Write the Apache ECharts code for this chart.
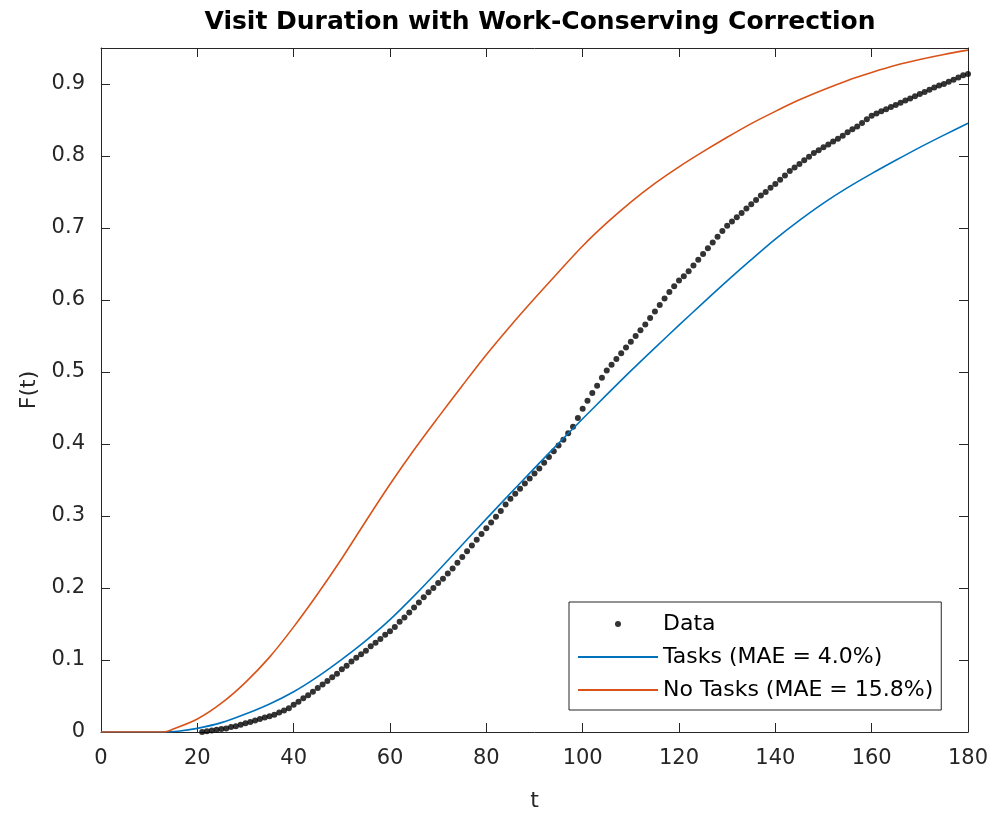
<!DOCTYPE html>
<html>
<head>
<meta charset="utf-8">
<title>Visit Duration with Work-Conserving Correction</title>
<script src="https://cdn.jsdelivr.net/npm/echarts@6/dist/echarts.min.js"></script>
<style>
  html, body { margin: 0; padding: 0; background: #fff; }
  #chart { width: 992px; height: 815px; }
</style>
</head>
<body>
<div id="chart"></div>
<script>
// Empirical visit-duration CDF, one point per time unit: [t, F(t)]
const observed = [
  [21,0.000],[22,0.001],[23,0.002],[24,0.003],[25,0.004],[26,0.005],[27,0.007],[28,0.008],[29,0.010],[30,0.012],
  [31,0.014],[32,0.016],[33,0.018],[34,0.020],[35,0.022],[36,0.024],[37,0.027],[38,0.030],[39,0.033],[40,0.038],
  [41,0.042],[42,0.047],[43,0.051],[44,0.056],[45,0.061],[46,0.066],[47,0.071],[48,0.076],[49,0.081],[50,0.087],
  [51,0.092],[52,0.098],[53,0.103],[54,0.108],[55,0.113],[56,0.119],[57,0.124],[58,0.129],[59,0.135],[60,0.140],
  [61,0.146],[62,0.153],[63,0.159],[64,0.166],[65,0.173],[66,0.180],[67,0.187],[68,0.194],[69,0.200],[70,0.207],
  [71,0.213],[72,0.220],[73,0.227],[74,0.235],[75,0.243],[76,0.251],[77,0.259],[78,0.267],[79,0.275],[80,0.283],
  [81,0.291],[82,0.299],[83,0.307],[84,0.316],[85,0.324],[86,0.331],[87,0.338],[88,0.345],[89,0.352],[90,0.359],
  [91,0.366],[92,0.374],[93,0.382],[94,0.390],[95,0.398],[96,0.406],[97,0.415],[98,0.424],[99,0.436],[100,0.449],
  [101,0.460],[102,0.471],[103,0.481],[104,0.492],[105,0.502],[106,0.510],[107,0.518],[108,0.526],[109,0.534],[110,0.542],
  [111,0.550],[112,0.558],[113,0.566],[114,0.575],[115,0.584],[116,0.593],[117,0.602],[118,0.611],[119,0.619],[120,0.627],
  [121,0.633],[122,0.640],[123,0.648],[124,0.656],[125,0.664],[126,0.672],[127,0.680],[128,0.688],[129,0.696],[130,0.703],
  [131,0.709],[132,0.715],[133,0.721],[134,0.727],[135,0.733],[136,0.739],[137,0.745],[138,0.750],[139,0.756],[140,0.761],
  [141,0.767],[142,0.773],[143,0.779],[144,0.784],[145,0.789],[146,0.794],[147,0.799],[148,0.804],[149,0.808],[150,0.812],
  [151,0.816],[152,0.820],[153,0.824],[154,0.828],[155,0.833],[156,0.837],[157,0.841],[158,0.846],[159,0.851],[160,0.856],
  [161,0.859],[162,0.862],[163,0.865],[164,0.868],[165,0.871],[166,0.874],[167,0.877],[168,0.880],[169,0.883],[170,0.886],
  [171,0.889],[172,0.892],[173,0.895],[174,0.898],[175,0.900],[176,0.903],[177,0.906],[178,0.909],[179,0.912],[180,0.914]
];

// Model CDF including tasks
const withTasks = [
  [0,0],[13,0],[16,0.001],[20,0.005],[25,0.013],[30,0.025],[35,0.039],[40,0.056],[45,0.077],[50,0.101],
  [55,0.127],[60,0.156],[65,0.189],[70,0.224],[75,0.260],[80,0.296],[85,0.3315],[90,0.3665],[95,0.401],[100,0.435],
  [105,0.4685],[110,0.5015],[115,0.5335],[120,0.565],[125,0.596],[130,0.6265],[135,0.656],[140,0.6845],[145,0.7105],[150,0.7345],
  [155,0.756],[160,0.7755],[165,0.794],[170,0.812],[175,0.829],[180,0.8455]
];

// Model CDF without tasks
const withoutTasks = [
  [0,0],[13,0],[15,0.004],[20,0.018],[25,0.040],[30,0.069],[35,0.104],[40,0.146],[45,0.192],[50,0.241],
  [55,0.293],[60,0.344],[65,0.392],[70,0.437],[75,0.481],[80,0.524],[85,0.564],[90,0.602],[95,0.639],[100,0.675],
  [105,0.707],[110,0.736],[115,0.762],[120,0.785],[125,0.806],[130,0.826],[135,0.845],[140,0.862],[145,0.878],[150,0.892],
  [155,0.905],[160,0.916],[165,0.926],[170,0.934],[175,0.941],[180,0.947]
];

const seriesNames = ['Data', 'Tasks (MAE = 4.0%)', 'No Tasks (MAE = 15.8%)'];
const xRange = [0, 180];
const yRange = [0, 0.95];

const FONT = '"DejaVu Sans", "Liberation Sans", Arial, sans-serif';
const AXIS_COLOR = '#262626';

const chart = echarts.init(document.getElementById('chart'), null, { renderer: 'canvas' });

const boxAxis = (extra) => Object.assign({
  type: 'value',
  axisLine: { show: true, onZero: false, lineStyle: { color: AXIS_COLOR, width: 1 } },
  axisTick: { show: true, inside: true, length: 9, lineStyle: { color: AXIS_COLOR, width: 1 } },
  splitLine: { show: false }
}, extra);

chart.setOption({
  animation: false,
  backgroundColor: '#ffffff',
  title: {
    text: 'Visit Duration with Work-Conserving Correction',
    left: 535,
    top: 5,
    textAlign: 'center',
    textStyle: { fontFamily: FONT, fontWeight: 'bold', fontSize: 25, color: '#000' }
  },
  grid: { left: 101, right: 24, top: 48, bottom: 83, containLabel: false, outerBoundsMode: 'none' },
  legend: {
    orient: 'vertical',
    left: 569,
    top: 602,
    itemWidth: 80,
    itemHeight: 6,
    itemGap: 11,
    itemTextGap: 8,
    padding: [11, 8, 9, 8],
    borderColor: AXIS_COLOR,
    borderWidth: 1,
    backgroundColor: '#fff',
    textStyle: { fontFamily: FONT, fontSize: 22, color: '#000', lineHeight: 21 },
    data: [
      { name: seriesNames[0] },
      { name: seriesNames[1], itemStyle: { opacity: 0 } },
      { name: seriesNames[2], itemStyle: { opacity: 0 } }
    ]
  },
  xAxis: [
    boxAxis({
      position: 'bottom', min: xRange[0], max: xRange[1], interval: 20,
      name: 't', nameLocation: 'middle', nameGap: 58,
      nameTextStyle: { fontFamily: FONT, fontSize: 22, color: AXIS_COLOR },
      axisLabel: { fontFamily: FONT, fontSize: 21, color: AXIS_COLOR, margin: 16 }
    }),
    boxAxis({
      position: 'top', min: xRange[0], max: xRange[1], interval: 20,
      axisLabel: { show: false }
    })
  ],
  yAxis: [
    boxAxis({
      position: 'left', min: yRange[0], max: yRange[1], interval: 0.1,
      name: 'F(t)', nameLocation: 'middle', nameGap: 54, nameRotate: 90,
      nameTextStyle: { fontFamily: FONT, fontSize: 22, color: AXIS_COLOR },
      axisLabel: { fontFamily: FONT, fontSize: 21, color: AXIS_COLOR, margin: 16, showMaxLabel: false }
    }),
    boxAxis({
      position: 'right', min: yRange[0], max: yRange[1], interval: 0.1,
      axisLabel: { show: false }
    })
  ],
  series: [
    {
      name: seriesNames[0],
      type: 'scatter',
      data: observed,
      symbol: 'circle',
      symbolSize: 6,
      itemStyle: { color: '#000' },
      z: 2
    },
    {
      name: seriesNames[1],
      type: 'line',
      data: withTasks,
      showSymbol: false,
      symbol: 'none',
      smooth: 0.3,
      lineStyle: { color: '#0072BD', width: 1.6 },
      itemStyle: { color: '#0072BD' },
      z: 3
    },
    {
      name: seriesNames[2],
      type: 'line',
      data: withoutTasks,
      showSymbol: false,
      symbol: 'none',
      smooth: 0.3,
      lineStyle: { color: '#D95319', width: 1.6 },
      itemStyle: { color: '#D95319' },
      z: 4
    }
  ]
});
</script>
</body>
</html>
